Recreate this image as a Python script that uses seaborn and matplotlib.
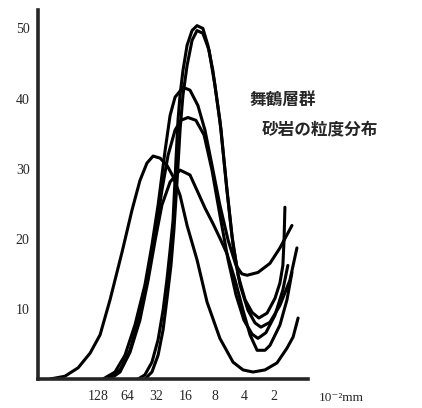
import pandas as pd
import seaborn as sns
import matplotlib.pyplot as plt

# x = steps of grain size from 128 (x10^-2 mm), each step halves the size
size_labels = ["128", "64", "32", "16", "8", "4", "2"]
size_pos = [0, 1, 2, 3, 4, 5, 6]

# sample D (coarse, peak ~32)
d_x = [-1.64, -1.13, -0.68, -0.27, 0.07, 0.41, 0.82, 1.16, 1.43, 1.67, 1.88, 2.12, 2.35, 2.56,
       2.80, 3.04, 3.38, 3.72, 4.16, 4.61, 4.95, 5.29, 5.70, 6.11, 6.45, 6.66, 6.83]
d_y = [0, 0.4, 1.6, 3.7, 6.3, 11.3, 18.1, 24.1, 28.3, 30.8, 31.8, 31.5, 30.5, 28.9,
       26.2, 21.9, 17.0, 11.0, 5.8, 2.4, 1.3, 1.0, 1.3, 2.3, 4.4, 6.0, 8.7]

# sample E (broad, peak ~30)
e_x = [0.41, 0.75, 1.09, 1.43, 1.71, 1.95, 2.18, 2.46, 2.80, 3.14, 3.38, 3.65, 3.92, 4.16,
       4.40, 4.68, 4.95, 5.19, 5.43, 5.70, 5.87, 6.21, 6.45, 6.62]
e_y = [0, 1.0, 3.8, 8.4, 14.1, 19.8, 24.8, 28.1, 29.8, 29.1, 26.9, 24.4, 22.2, 20.1,
       17.9, 14.1, 9.8, 6.3, 4.1, 4.1, 4.8, 7.7, 11.3, 15.2]

# sample B (peak ~42)
b_x = [0.17, 0.58, 0.92, 1.26, 1.60, 1.84, 2.05, 2.29, 2.46, 2.63, 2.90, 3.14, 3.41, 3.65,
       3.89, 4.16, 4.44, 4.71, 4.91, 5.09, 5.46, 5.87, 6.21, 6.48, 6.62]
b_y = [0, 1.0, 3.4, 7.7, 13.4, 19.1, 24.8, 32.6, 37.6, 40.2, 41.6, 41.2, 39.0, 35.5,
       30.5, 24.8, 19.8, 16.2, 15.0, 14.8, 15.2, 16.5, 18.7, 20.8, 21.9]

# sample C (peak ~37)
c_x = [0.31, 0.75, 1.09, 1.43, 1.71, 1.95, 2.18, 2.39, 2.63, 2.83, 3.07, 3.34, 3.62, 3.89,
       4.16, 4.44, 4.71, 4.98, 5.26, 5.46, 5.73, 6.04, 6.31, 6.48]
c_y = [0, 1.3, 4.1, 9.1, 14.8, 20.5, 26.9, 31.9, 35.5, 36.9, 37.3, 36.9, 34.8, 29.8,
       23.4, 17.0, 12.0, 8.4, 6.4, 5.8, 6.6, 9.1, 12.7, 16.2]

# two tall samples (peak ~50)
t1_x = [1.37, 1.60, 1.84, 2.05, 2.22, 2.35, 2.46, 2.56, 2.66, 2.73, 2.80, 2.90, 3.04, 3.21,
        3.38, 3.58, 3.75, 3.92, 4.16, 4.37, 4.57, 4.78, 5.02, 5.26, 5.49, 5.77, 6.04, 6.21,
        6.31, 6.35, 6.38]
t1_y = [0, 0.6, 2.4, 5.6, 9.8, 14.1, 18.4, 22.6, 31.2, 36.9, 40.5, 44.0, 47.6, 49.7,
        50.4, 50.0, 47.6, 44.0, 36.9, 28.3, 20.5, 14.8, 11.3, 9.5, 8.7, 9.4, 11.5, 13.7,
        16.2, 19.8, 24.5]

t2_x = [1.60, 1.84, 2.05, 2.22, 2.35, 2.49, 2.59, 2.70, 2.80, 2.90, 3.04, 3.21, 3.38, 3.58,
        3.79, 3.99, 4.20, 4.40, 4.61, 4.85, 5.12, 5.36, 5.56, 5.87, 6.21, 6.55, 6.79]
t2_y = [0, 1.0, 3.4, 7.0, 11.3, 16.2, 21.2, 28.3, 35.5, 40.5, 44.7, 48.3, 49.7, 49.3,
        46.9, 41.9, 35.5, 26.9, 19.1, 13.4, 9.8, 8.0, 7.4, 8.1, 10.5, 14.1, 18.7]

curves = [(d_x, d_y), (e_x, e_y), (b_x, b_y), (c_x, c_y), (t1_x, t1_y), (t2_x, t2_y)]

sns.set_style("white")
plt.rcParams['font.family'] = ['Liberation Serif', 'DejaVu Sans', 'Noto Sans CJK JP']

fig = plt.figure(figsize=(4.22, 4.08), dpi=100)
ax = fig.add_axes([0.090, 0.071, 0.640, 0.904])

for x, y in curves:
    df = pd.DataFrame({'pos': x, 'pct': y})
    sns.lineplot(data=df, x='pos', y='pct', color='black', linewidth=2.2,
                 sort=False, estimator=None, ax=ax)

ax.set_xlim(-2.05, 7.17)
ax.set_ylim(0, 52.6)
ax.set_xlabel('')
ax.set_ylabel('')
sns.despine(ax=ax)
ax.spines['left'].set_linewidth(2.6)
ax.spines['bottom'].set_linewidth(2.6)

ax.set_xticks(size_pos)
ax.set_xticklabels(size_labels, fontsize=10)
ax.set_yticks([10, 20, 30, 40, 50])
ax.set_yticklabels(['10', '20', '30', '40', '50'], fontsize=10)
ax.tick_params(axis='both', which='both', direction='out', length=4, width=1.5,
               color='black', pad=2)
ax.tick_params(axis='x', pad=4)

fig.text(0.755, 0.025, '10⁻²mm', fontsize=9.5, ha='left', va='center',
         family=['Liberation Serif', 'DejaVu Sans'])

fig.text(0.592, 0.755, '舞鶴層群', fontsize=12, fontweight='bold',
         family=['Noto Sans CJK JP'], ha='left', va='center')
fig.text(0.620, 0.682, '砂岩の粒度分布', fontsize=12, fontweight='bold',
         family=['Noto Sans CJK JP'], ha='left', va='center')

fig.savefig('out.png', dpi=100, facecolor='white')
